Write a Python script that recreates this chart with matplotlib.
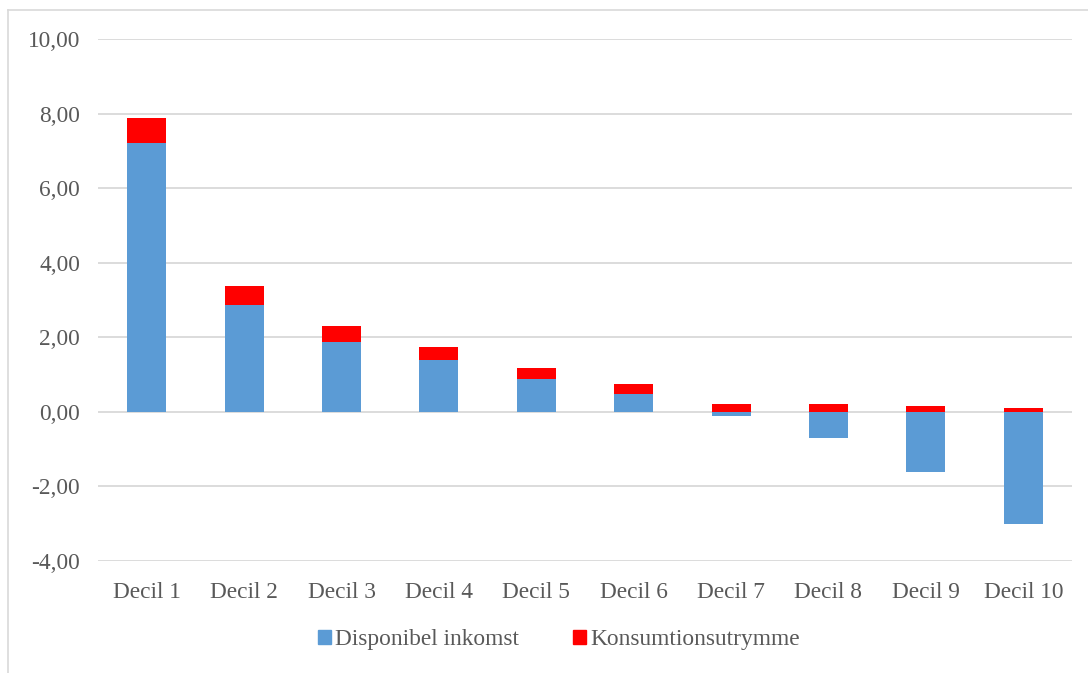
import numpy as np
import matplotlib
matplotlib.use("Agg")
import matplotlib.pyplot as plt
from matplotlib.patches import Patch
from matplotlib.lines import Line2D

deciles = ["Decil 1", "Decil 2", "Decil 3", "Decil 4", "Decil 5",
           "Decil 6", "Decil 7", "Decil 8", "Decil 9", "Decil 10"]
disponibel = [7.20, 2.87, 1.88, 1.39, 0.88, 0.49, -0.10, -0.70, -1.60, -3.00]
konsumtion = [0.68, 0.51, 0.43, 0.35, 0.30, 0.26, 0.22, 0.20, 0.17, 0.10]
yticks = [-4, -2, 0, 2, 4, 6, 8, 10]

blue = "#5b9bd5"
red = "#ff0000"
grey = "#595959"

plt.rcParams["font.family"] = ["Liberation Serif", "DejaVu Serif"]

fig = plt.figure(figsize=(10.88, 6.73), dpi=100)
ax = fig.add_axes([98 / 1088, 1 - 561 / 673, (1072 - 98) / 1088, (561 - 39) / 673])

x = np.arange(len(deciles))
red_bottom = np.maximum(np.array(disponibel), 0)
ax.bar(x, disponibel, width=0.4, color=blue, zorder=3)
ax.bar(x, konsumtion, width=0.4, bottom=red_bottom, color=red, zorder=3)

ax.set_xlim(-0.5, len(deciles) - 0.5)
ax.set_ylim(-4, 10)
ax.set_yticks(yticks)
ax.set_yticklabels([f"{v:.2f}".replace(".", ",") for v in yticks])
ax.set_xticks(x)
ax.set_xticklabels(deciles)
ax.grid(axis="y", color="#d9d9d9", linewidth=1.3, zorder=0)
ax.tick_params(axis="both", length=0, labelsize=16.8, labelcolor=grey)
ax.tick_params(axis="y", pad=13)
ax.tick_params(axis="x", pad=15)
for s in ax.spines.values():
    s.set_visible(False)

# outer chart border (left and top)
fig.add_artist(Line2D([8 / 1088, 8 / 1088], [0, 1 - 10 / 673], color="#d9d9d9", linewidth=1.2))
fig.add_artist(Line2D([8 / 1088, 1], [1 - 10 / 673, 1 - 10 / 673], color="#d9d9d9", linewidth=1.2))

handles = [Patch(color=blue, label="Disponibel inkomst"),
           Patch(color=red, label="Konsumtionsutrymme")]
leg = fig.legend(handles=handles, loc="center", bbox_to_anchor=(559 / 1088, 1 - 640 / 673),
                 ncol=2, frameon=False, fontsize=16.8, handlelength=0.55, handleheight=0.55,
                 handletextpad=0.2, columnspacing=2.3)
for t in leg.get_texts():
    t.set_color(grey)

fig.savefig("out.png", dpi=100)
